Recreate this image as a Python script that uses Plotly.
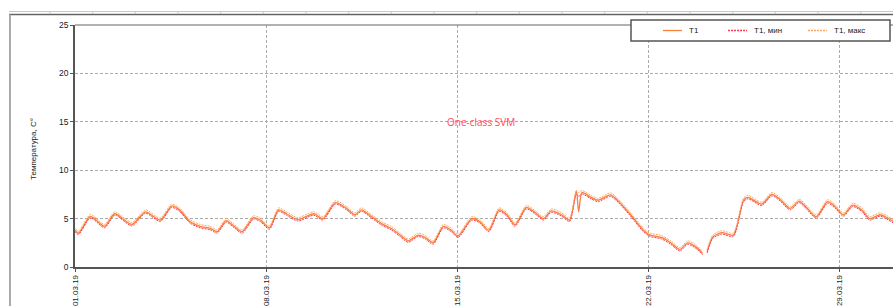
import plotly.graph_objects as go

# ---- data ----
times = [
    "2019-03-01 00:00", "2019-03-01 03:00", "2019-03-01 13:00", "2019-03-01 16:00",
    "2019-03-02 02:00", "2019-03-02 11:00", "2019-03-03 02:00", "2019-03-03 14:00",
    "2019-03-04 03:00", "2019-03-04 13:00", "2019-03-04 20:00", "2019-03-05 05:00",
    "2019-03-05 14:00", "2019-03-05 23:00", "2019-03-06 05:00", "2019-03-06 13:00",
    "2019-03-06 19:00", "2019-03-07 03:00", "2019-03-07 13:00", "2019-03-07 19:00",
    "2019-03-08 03:00", "2019-03-08 11:00", "2019-03-08 18:00", "2019-03-09 04:00",
    "2019-03-09 18:00", "2019-03-10 02:00", "2019-03-10 13:00", "2019-03-10 23:00",
    "2019-03-11 06:00", "2019-03-11 12:00", "2019-03-11 21:00", "2019-03-12 06:00",
    "2019-03-12 14:00", "2019-03-12 22:00", "2019-03-13 05:00", "2019-03-13 14:00",
    "2019-03-13 20:00", "2019-03-14 03:00", "2019-03-14 12:00", "2019-03-14 19:00",
    "2019-03-15 01:00", "2019-03-15 13:00", "2019-03-15 20:00", "2019-03-16 04:00",
    "2019-03-16 13:00", "2019-03-16 20:00", "2019-03-17 03:00", "2019-03-17 13:00",
    "2019-03-17 21:00", "2019-03-18 04:00", "2019-03-18 11:00", "2019-03-18 20:00",
    "2019-03-19 03:00", "2019-03-19 09:00", "2019-03-19 11:00", "2019-03-19 14:00",
    "2019-03-19 21:00", "2019-03-20 04:00", "2019-03-20 15:00", "2019-03-20 22:00",
    "2019-03-21 08:00", "2019-03-21 20:00", "2019-03-22 02:00", "2019-03-22 12:00",
    "2019-03-22 20:00", "2019-03-23 04:00", "2019-03-23 11:00", "2019-03-23 19:00",
    "2019-03-24 00:00", "2019-03-24 02:00", "2019-03-24 04:00", "2019-03-24 09:00",
    "2019-03-24 17:00", "2019-03-25 03:00", "2019-03-25 12:00", "2019-03-25 16:00",
    "2019-03-26 04:00", "2019-03-26 13:00", "2019-03-26 20:00", "2019-03-27 05:00",
    "2019-03-27 13:00", "2019-03-27 19:00", "2019-03-28 04:00", "2019-03-28 14:00",
    "2019-03-28 20:00", "2019-03-29 04:00", "2019-03-29 12:00", "2019-03-29 20:00",
    "2019-03-30 03:00", "2019-03-30 12:00", "2019-03-30 18:00", "2019-03-31 00:00",
    "2019-03-31 06:00",
]

t1 = [
    3.8, 3.5, 5.2, 5.1, 4.2, 5.5, 4.4, 5.7, 4.85, 6.3, 5.9, 4.7,
    4.2, 4.0, 3.65, 4.8, 4.3, 3.65, 5.1, 4.85, 4.05, 5.9, 5.5, 4.9,
    5.5, 5.0, 6.65, 6.05, 5.4, 5.9, 5.2, 4.45, 4.0, 3.3, 2.7, 3.3,
    3.05, 2.5, 4.2, 3.8, 3.2, 5.0, 4.7, 3.8, 5.9, 5.4, 4.35, 6.15,
    5.6, 5.0, 5.8, 5.4, 4.85, 7.9, 5.7, 7.7, 7.25, 6.9, 7.45, 6.8,
    5.5, 3.8, 3.3, 3.05, 2.5, 1.8, 2.5, 2.0, 1.4, None, 1.6, 3.1,
    3.55, 3.3, 6.9, 7.2, 6.5, 7.5, 7.0, 6.05, 6.8, 6.2, 5.2, 6.75,
    6.3, 5.4, 6.4, 5.9, 5.0, 5.4, 5.1, 4.7, 4.5,
]

t1_min = [
    3.65, 3.35, 5.05, 4.95, 4.05, 5.35, 4.25, 5.55, 4.7, 6.15, 5.75, 4.55,
    4.05, 3.85, 3.5, 4.65, 4.15, 3.5, 4.95, 4.7, 3.9, 5.75, 5.35, 4.75,
    5.35, 4.85, 6.5, 5.9, 5.25, 5.75, 5.05, 4.3, 3.85, 3.15, 2.55, 3.15,
    2.9, 2.35, 4.05, 3.65, 3.05, 4.85, 4.55, 3.65, 5.75, 5.25, 4.2, 6.0,
    5.45, 4.85, 5.65, 5.25, 4.7, 7.55, 7.3, 7.55, 7.1, 6.75, 7.3, 6.65,
    5.35, 3.65, 3.15, 2.9, 2.35, 1.65, 2.35, 1.85, 1.25, None, 1.45, 2.95,
    3.4, 3.15, 6.75, 7.05, 6.35, 7.35, 6.85, 5.9, 6.65, 6.05, 5.05, 6.6,
    6.15, 5.25, 6.25, 5.75, 4.85, 5.25, 4.95, 4.55, 4.35,
]

t1_max = [
    4.0, 3.7, 5.4, 5.3, 4.4, 5.7, 4.6, 5.9, 5.05, 6.5, 6.1, 4.9,
    4.4, 4.2, 3.85, 5.0, 4.5, 3.85, 5.3, 5.05, 4.25, 6.1, 5.7, 5.1,
    5.7, 5.2, 6.85, 6.25, 5.6, 6.1, 5.4, 4.65, 4.2, 3.5, 2.9, 3.5,
    3.25, 2.7, 4.4, 4.0, 3.4, 5.2, 4.9, 4.0, 6.1, 5.6, 4.55, 6.35,
    5.8, 5.2, 6.0, 5.6, 5.05, 7.85, 7.7, 7.9, 7.45, 7.1, 7.65, 7.0,
    5.7, 4.0, 3.5, 3.25, 2.7, 2.0, 2.7, 2.2, 1.6, None, 1.8, 3.3,
    3.75, 3.5, 7.1, 7.4, 6.7, 7.7, 7.2, 6.25, 7.0, 6.4, 5.4, 6.95,
    6.5, 5.6, 6.6, 6.1, 5.2, 5.6, 5.3, 4.9, 4.7,
]

series_names = ["T1", "T1, мин", "T1, макс"]
series_colors = ["#f7803c", "#ff3b52", "#ffa862"]

tick_dates = ["2019-03-01", "2019-03-08", "2019-03-15", "2019-03-22", "2019-03-29"]
tick_labels = ["01.03.19", "08.03.19", "15.03.19", "22.03.19", "29.03.19"]
y_ticks = [0, 5, 10, 15, 20, 25]

annotation_text = "One-class SVM"
y_title = "Температура, C°"

# ---- layout geometry (pixels of the 893x306 canvas) ----
W, H = 893, 306
L, T, B = 75, 25, 267
R = 893


def px_x(px):
    return (px - L) / (R - L)


def px_y(py):
    return (B - py) / (B - T)


fig = go.Figure()

fig.add_trace(go.Scatter(
    x=times, y=t1, name=series_names[0], mode="lines",
    line=dict(color=series_colors[0], width=1.3, shape="spline", smoothing=0.7),
    connectgaps=False, showlegend=False))
fig.add_trace(go.Scatter(
    x=times, y=t1_min, name=series_names[1], mode="lines",
    line=dict(color=series_colors[1], width=1, dash="2px,1px", shape="spline", smoothing=0.7),
    connectgaps=False, showlegend=False))
fig.add_trace(go.Scatter(
    x=times, y=t1_max, name=series_names[2], mode="lines",
    line=dict(color=series_colors[2], width=1, dash="2px,1px", shape="spline", smoothing=0.7),
    connectgaps=False, showlegend=False))

font_family = "Liberation Sans, Arial, sans-serif"
grid_col = "#ababab"

fig.update_layout(
    width=W, height=H,
    margin=dict(l=L, r=W - R, t=T, b=H - B, pad=0),
    paper_bgcolor="white", plot_bgcolor="white",
    font=dict(family=font_family, size=8, color="#222"),
    showlegend=False,
    xaxis=dict(
        type="date",
        range=["2019-03-01 00:00", "2019-03-30 23:30"],
        tickvals=tick_dates, ticktext=tick_labels, tickangle=-90,
        tickfont=dict(size=8, color="#222"),
        showgrid=True, gridcolor=grid_col, gridwidth=1, griddash="3px,2px",
        showline=True, linecolor="#555", linewidth=1.5,
        ticks="outside", ticklen=3, tickcolor="#555",
        zeroline=False,
    ),
    yaxis=dict(
        range=[0, 25], tickvals=y_ticks,
        tickfont=dict(size=8.5, color="#222"),
        showgrid=True, gridcolor=grid_col, gridwidth=1, griddash="3px,2px",
        showline=True, linecolor="#555", linewidth=1.5,
        ticks="outside", ticklen=3, tickcolor="#555",
        zeroline=False,
    ),
)

shapes = []
# top border of plot area
shapes.append(dict(type="line", xref="paper", yref="paper",
                   x0=0, x1=px_x(893), y0=1, y1=1,
                   line=dict(color="#666", width=1.2)))
# outer frame pieces
shapes.append(dict(type="line", xref="paper", yref="paper",
                   x0=px_x(9), x1=px_x(893), y0=px_y(11.5), y1=px_y(11.5),
                   line=dict(color="#c8c8c8", width=1)))
shapes.append(dict(type="line", xref="paper", yref="paper",
                   x0=px_x(9), x1=px_x(893), y0=px_y(14.5), y1=px_y(14.5),
                   line=dict(color="#666", width=1.5)))
shapes.append(dict(type="line", xref="paper", yref="paper",
                   x0=px_x(10), x1=px_x(10), y0=px_y(14.5), y1=px_y(306),
                   line=dict(color="#aaaaaa", width=2)))
k = 0
while 50 + 42.67 * k < 893:
    xx = 50 + 42.67 * k
    shapes.append(dict(type="line", xref="paper", yref="paper",
                       x0=px_x(xx), x1=px_x(xx), y0=px_y(11.5), y1=px_y(14),
                       line=dict(color="#c8c8c8", width=1)))
    k += 1

# manual legend box
shapes.append(dict(type="rect", xref="paper", yref="paper",
                   x0=px_x(631), x1=px_x(890), y0=px_y(41), y1=px_y(20),
                   fillcolor="white", line=dict(color="#555", width=1.5), layer="above"))
leg_pos = [(663, 682, 687), (728, 747, 752), (808, 827, 832)]
leg_dash = ["solid", "2px,1px", "2px,1px"]
annotations = []
for (a, b, tx), name, col, d in zip(leg_pos, series_names, series_colors, leg_dash):
    shapes.append(dict(type="line", xref="paper", yref="paper",
                       x0=px_x(a), x1=px_x(b), y0=px_y(30.5), y1=px_y(30.5),
                       line=dict(color=col, width=1.3, dash=d), layer="above"))
    annotations.append(dict(xref="paper", yref="paper", x=px_x(tx), y=px_y(30.5),
                            text=name, showarrow=False, xanchor="left", yanchor="middle",
                            font=dict(size=8, color="#222", family=font_family)))

annotations.append(dict(xref="paper", yref="paper", x=px_x(481), y=px_y(122),
                        text=annotation_text, showarrow=False,
                        xanchor="center", yanchor="middle",
                        font=dict(size=10, color="#ff4a55", family="Open Sans, sans-serif")))
annotations.append(dict(xref="paper", yref="paper", x=px_x(33), y=px_y(149),
                        text=y_title, showarrow=False, textangle=-90,
                        xanchor="center", yanchor="middle",
                        font=dict(size=8, color="#222", family=font_family)))

fig.update_layout(shapes=shapes, annotations=annotations)

fig.write_html(
    "out.html",
    config={"displayModeBar": False},
    post_script="document.body.style.margin='0';document.body.style.padding='0';"
                "document.body.style.overflow='hidden';",
)
